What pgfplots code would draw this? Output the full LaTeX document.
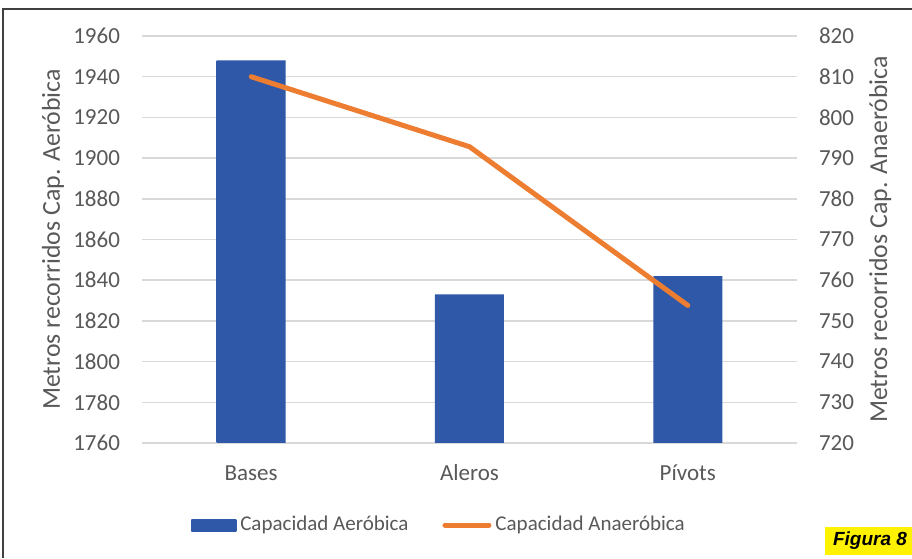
\documentclass[border=0pt]{standalone}
\usepackage{pgfplots}
\pgfplotsset{compat=1.18}
\usepackage{fontspec}
\setmainfont{Carlito}
\newfontfamily\figfont{Liberation Sans}
\definecolor{bardark}{HTML}{2F58A8}
\definecolor{barlight}{HTML}{3A69C2}
\definecolor{lineorange}{HTML}{ED7D31}
\definecolor{txt}{HTML}{595959}
\definecolor{gridc}{HTML}{D9D9D9}
\definecolor{figyellow}{HTML}{FFF200}

\begin{document}
\begin{tikzpicture}[x=1pt,y=1pt]
\useasboundingbox (0,0) rectangle (456,279);
\fill[white] (0,0) rectangle (456,279);
\draw[line width=1pt, color=black!75] (1.5,0) -- (1.5,274.5) -- (456,274.5);
\begin{axis}[
 at={(71pt,57.5pt)}, anchor=south west, scale only axis, width=327.5pt, height=203.5pt,
 xmin=-0.5, xmax=2.5, ymin=1760, ymax=1960, ytick distance=20,
 xtick={0,1,2}, xticklabels={Bases,Aleros,Pívots},
 axis line style={draw=none}, major tick length=0pt,
 ymajorgrids, grid style={gridc, line width=0.75pt},
 tick label style={font=\fontsize{11.5}{13}\selectfont, text=txt},
 /pgf/number format/assume math mode=true, /pgf/number format/1000 sep={},
 yticklabel style={xshift=-7.5pt},
 xticklabel style={anchor=base, yshift=-19pt},
 every axis y label/.style={at={(rel axis cs:-0.136,0.5)}, rotate=90, anchor=center},
 ylabel={Metros recorridos Cap. Aeróbica},
 label style={font=\fontsize{12.9}{15}\selectfont, text=txt},
]
\addplot[ybar, bar width=34.5pt, draw=none, left color=bardark, middle color=barlight, right color=bardark] coordinates {(0,1948) (1,1833) (2,1842)};
\end{axis}
\begin{axis}[
 at={(71pt,57.5pt)}, anchor=south west, scale only axis, width=327.5pt, height=203.5pt,
 xmin=-0.5, xmax=2.5, ymin=720, ymax=820, ytick distance=10,
 axis y line*=right, axis x line=none,
 axis line style={draw=none}, major tick length=0pt,
 tick label style={font=\fontsize{11.5}{13}\selectfont, text=txt},
 /pgf/number format/assume math mode=true, /pgf/number format/1000 sep={},
 yticklabel style={xshift=7.5pt},
 every axis y label/.style={at={(rel axis cs:1.127,0.5)}, rotate=90, anchor=center},
 ylabel={Metros recorridos Cap. Anaeróbica},
 label style={font=\fontsize{12.9}{15}\selectfont, text=txt},
 legend style={at={(0.455,-0.2015)}, anchor=center, draw=none, fill=none, legend columns=2,
   font=\fontsize{10.5}{12}\selectfont, text=txt,
   /tikz/every even column/.append style={column sep=15pt}},
 legend cell align=left,
]
\addlegendimage{legend image code/.code={\path[left color=bardark, middle color=barlight, right color=bardark, draw=none] (0pt,-3pt) rectangle (22.5pt,3pt);}}
\addlegendentry{Capacidad Aeróbica}
\addplot[lineorange, line width=2.5pt, line cap=round, line join=round,
  legend image code/.code={\draw[lineorange, line width=2.5pt, line cap=round] (1.25pt,0pt)--(23.25pt,0pt);}]
  coordinates {(0,810) (1,792.8) (2,753.8)};
\addlegendentry{Capacidad Anaeróbica}
\end{axis}
\fill[figyellow] (412.5,1.5) rectangle (456,15.5);
\node[font=\figfont\fontsize{9.5}{11}\selectfont\bfseries\itshape] at (435,8.5) {Figura 8};
\end{tikzpicture}
\end{document}
